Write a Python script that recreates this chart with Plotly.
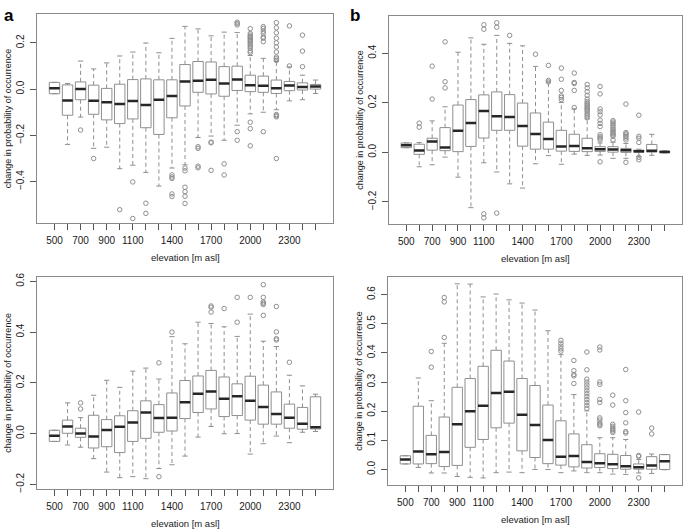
import plotly.graph_objects as go

W, H = 685, 530

elevation = [500, 600, 700, 800, 900, 1000, 1100, 1200, 1300, 1400, 1500,
             1600, 1700, 1800, 1900, 2000, 2100, 2200, 2300, 2400, 2500]
tick_text = ["500", "", "700", "", "900", "", "1100", "", "", "1400", "",
             "", "1700", "", "", "2000", "", "", "2300", "", ""]

# ---- panel a (top left) ----
a_q1 = [-0.020, -0.113, -0.046, -0.109, -0.133, -0.149, -0.129, -0.167, -0.196, -0.124, -0.073,
        -0.014, -0.021, -0.031, -0.006, -0.011, -0.014, -0.019, -0.007, -0.004, 0.000]
a_med = [0.004, -0.049, 0.000, -0.050, -0.057, -0.064, -0.051, -0.069, -0.046, -0.030, 0.033,
         0.036, 0.040, 0.024, 0.041, 0.017, 0.014, 0.004, 0.016, 0.009, 0.011]
a_q3 = [0.029, 0.018, 0.031, 0.017, 0.003, 0.021, 0.041, 0.044, 0.040, 0.040, 0.106,
        0.119, 0.117, 0.097, 0.099, 0.060, 0.056, 0.039, 0.033, 0.027, 0.020]
a_lo = [-0.020, -0.239, -0.121, -0.256, -0.251, -0.344, -0.329, -0.360, -0.419, -0.341, -0.327,
        -0.209, -0.203, -0.221, -0.156, -0.107, -0.100, -0.089, -0.051, -0.046, -0.019]
a_hi = [0.029, 0.024, 0.121, 0.087, 0.113, 0.143, 0.160, 0.199, 0.157, 0.219, 0.271,
        0.260, 0.230, 0.246, 0.244, 0.145, 0.133, 0.119, 0.096, 0.060, 0.039]
a_out = [[], [], [-0.177], [-0.300], [], [-0.521], [-0.401, -0.559], [-0.493, -0.537], [],
         [-0.371, -0.380, -0.386, -0.453, -0.464],
         [-0.341, -0.353, -0.424, -0.443, -0.463, -0.494],
         [-0.249, -0.256, -0.333, -0.340],
         [-0.229, -0.232, -0.351],
         [-0.323, -0.371],
         [0.289, 0.283, 0.277, -0.184, -0.221],
         [0.261, 0.240, 0.233, 0.227, 0.222, 0.216, 0.210, 0.204, 0.198, 0.190, 0.183, 0.176,
          0.165, 0.158, -0.143, -0.171, -0.245],
         [0.270, 0.262, 0.250, 0.240, 0.225, 0.220, 0.205, -0.184],
         [0.287, 0.265, 0.243, 0.220, 0.200, 0.182, 0.160, 0.138, 0.131, 0.124,
          -0.110, -0.115, -0.120, -0.300],
         [0.273, 0.100],
         [0.233, 0.164, 0.097],
         []]

# ---- panel b (top right) ----
b_q1 = [0.019, -0.008, 0.009, 0.007, 0.003, 0.024, 0.058, 0.089, 0.089, 0.025, 0.013,
        0.013, 0.005, 0.004, 0.003, 0.004, 0.001, 0.000, 0.000, 0.001, 0.000]
b_med = [0.029, 0.008, 0.044, 0.020, 0.087, 0.119, 0.167, 0.146, 0.143, 0.106, 0.074,
         0.054, 0.024, 0.026, 0.017, 0.013, 0.012, 0.009, 0.005, 0.007, 0.002]
b_q3 = [0.038, 0.033, 0.057, 0.100, 0.191, 0.213, 0.232, 0.244, 0.233, 0.199, 0.159,
        0.122, 0.089, 0.073, 0.057, 0.023, 0.023, 0.016, 0.009, 0.032, 0.005]
b_lo = [0.019, -0.058, -0.050, -0.019, -0.100, -0.223, -0.042, -0.079, -0.127, -0.144, -0.046,
        -0.013, -0.048, -0.007, -0.012, -0.011, -0.024, -0.024, -0.017, -0.012, -0.002]
b_hi = [0.038, 0.040, 0.127, 0.184, 0.404, 0.462, 0.436, 0.472, 0.440, 0.430, 0.347,
        0.287, 0.201, 0.176, 0.135, 0.038, 0.041, 0.036, 0.013, 0.073, 0.007]
b_out = [[], [0.118, 0.102], [0.348, 0.215], [0.446, 0.285, 0.260], [], [],
         [0.515, 0.497, -0.248, -0.264],
         [0.523, 0.505, -0.245],
         [0.472], [], [0.396],
         [0.351, 0.290, 0.284],
         [0.340, 0.295, 0.250, 0.228, 0.222, 0.213],
         [0.320, 0.282, 0.278, 0.250, 0.181],
         [0.274, 0.260, 0.245, 0.230, 0.215, 0.205, 0.198, 0.192, 0.186, 0.180, 0.175,
          0.170, 0.163, 0.155, 0.148, 0.140],
         [0.266, 0.236, 0.175, 0.164, 0.151, 0.130, 0.117, 0.104, 0.071, 0.063, 0.058,
          0.051, -0.038],
         [0.128, 0.122, 0.115, 0.108, 0.100, 0.093, 0.087, 0.080, 0.075, 0.070, 0.065, 0.050],
         [0.195, 0.080, 0.075, 0.070, 0.064, 0.058, 0.050, -0.040],
         [0.150, 0.065, 0.057, 0.040, -0.020, -0.030],
         [], []]

# ---- panel c (bottom left) ----
c_q1 = [-0.031, 0.001, -0.015, -0.057, -0.052, -0.075, -0.031, -0.019, 0.005, 0.010, 0.059,
        0.083, 0.097, 0.067, 0.071, 0.053, 0.037, 0.037, 0.021, 0.017, 0.018]
c_med = [-0.009, 0.028, 0.000, -0.012, 0.014, 0.027, 0.044, 0.083, 0.061, 0.062, 0.123,
         0.157, 0.166, 0.137, 0.147, 0.129, 0.105, 0.077, 0.062, 0.039, 0.025]
c_q3 = [0.013, 0.053, 0.021, 0.072, 0.055, 0.070, 0.090, 0.129, 0.114, 0.160, 0.209,
        0.227, 0.249, 0.223, 0.196, 0.226, 0.191, 0.164, 0.116, 0.103, 0.145]
c_lo = [-0.031, -0.045, -0.054, -0.099, -0.152, -0.174, -0.170, -0.178, -0.138, -0.123, -0.089,
        -0.014, 0.028, -0.001, 0.000, -0.081, -0.040, -0.010, -0.036, 0.005, 0.008]
c_hi = [0.013, 0.121, 0.063, 0.151, 0.210, 0.182, 0.246, 0.258, 0.215, 0.382, 0.354,
        0.439, 0.434, 0.421, 0.383, 0.471, 0.364, 0.343, 0.230, 0.188, 0.155]
c_out = [[], [], [0.121, 0.097], [], [], [], [], [], [0.279, -0.170], [0.400], [],
         [], [0.503, 0.498, 0.479], [0.493], [0.537, 0.439], [0.537],
         [0.587, 0.537, 0.519, 0.514, 0.509, 0.466],
         [0.501, 0.401, 0.374, 0.369],
         [0.281], [], []]

# ---- panel d (bottom right) ----
d_q1 = [0.019, 0.019, 0.020, 0.010, 0.014, 0.076, 0.103, 0.143, 0.159, 0.064, 0.041,
        0.020, 0.015, 0.009, 0.005, 0.007, 0.003, 0.001, 0.001, 0.001, 0.000]
d_med = [0.034, 0.062, 0.052, 0.060, 0.155, 0.200, 0.219, 0.262, 0.267, 0.188, 0.153,
         0.101, 0.044, 0.046, 0.026, 0.021, 0.018, 0.011, 0.008, 0.014, 0.028]
d_q3 = [0.047, 0.217, 0.117, 0.180, 0.282, 0.312, 0.354, 0.409, 0.372, 0.312, 0.288,
        0.221, 0.167, 0.122, 0.085, 0.054, 0.052, 0.048, 0.019, 0.044, 0.051]
d_lo = [0.019, 0.007, -0.012, -0.012, -0.024, -0.027, -0.029, -0.011, -0.009, -0.011, 0.000,
        0.000, -0.011, -0.005, -0.011, -0.011, -0.016, -0.017, -0.012, -0.014, -0.001]
d_hi = [0.047, 0.314, 0.236, 0.433, 0.637, 0.636, 0.592, 0.602, 0.582, 0.571, 0.547,
        0.476, 0.394, 0.257, 0.201, 0.109, 0.109, 0.103, 0.034, 0.053, 0.051]
d_out = [[], [], [0.405, 0.351], [0.590, 0.575, 0.453], [], [], [], [], [], [], [],
         [], [0.443, 0.433, 0.423, 0.414, 0.406],
         [0.374, 0.339, 0.326, 0.321, 0.295],
         [0.403, 0.342, 0.310, 0.300, 0.290, 0.280, 0.270, 0.260, 0.250, 0.240, 0.230,
          0.220, 0.210],
         [0.420, 0.410, 0.300, 0.292, 0.240, 0.230, 0.177, 0.170, 0.160, 0.155, 0.150],
         [0.255, 0.221, 0.155, 0.148, 0.142, 0.137, 0.132, 0.127],
         [0.343, 0.236, 0.195, 0.160, 0.130, 0.125],
         [0.197, 0.048, 0.045, -0.029],
         [0.142, 0.122], []]

BOX_GRAY = "#8f8f8f"
FRAME = "#8a8a8a"
MED = "#262626"
TXT = "#1a1a1a"
FONT = "Liberation Sans, Arial, Helvetica, sans-serif"
HALF_BOX = 40     # R boxwex 0.8 on 100 m spacing
HALF_CAP = 20     # staplewex 0.5


def segs(xa, xb, ya, yb):
    xs, ys = [], []
    for x0, x1, y0, y1 in zip(xa, xb, ya, yb):
        xs += [x0, x1, None]
        ys += [y0, y1, None]
    return xs, ys


def add_panel(fig, n, q1, med, q3, lo, hi, out):
    ax = dict(xaxis="x" if n == 1 else f"x{n}", yaxis="y" if n == 1 else f"y{n}")
    # dashed whiskers
    xs, ys = segs(elevation + elevation, elevation + elevation, q3 + q1, hi + lo)
    fig.add_trace(go.Scatter(x=xs, y=ys, mode="lines", hoverinfo="skip", showlegend=False,
                             line=dict(color=BOX_GRAY, width=1, dash="4px,3px"), **ax))
    # staples
    left = [e - HALF_CAP for e in elevation]
    right = [e + HALF_CAP for e in elevation]
    xs, ys = segs(left + left, right + right, hi + lo, hi + lo)
    fig.add_trace(go.Scatter(x=xs, y=ys, mode="lines", hoverinfo="skip", showlegend=False,
                             line=dict(color=BOX_GRAY, width=1), **ax))
    # boxes
    fig.add_trace(go.Box(x=elevation, q1=q1, median=med, q3=q3, lowerfence=q1, upperfence=q3,
                         width=2 * HALF_BOX, whiskerwidth=0, boxpoints=False,
                         fillcolor="white", line=dict(color=BOX_GRAY, width=1),
                         hoverinfo="skip", showlegend=False, **ax))
    # medians
    xs, ys = segs([e - HALF_BOX for e in elevation], [e + HALF_BOX for e in elevation], med, med)
    fig.add_trace(go.Scatter(x=xs, y=ys, mode="lines", hoverinfo="skip", showlegend=False,
                             line=dict(color=MED, width=2.5), **ax))
    # outliers
    ox, oy = [], []
    for e, vals in zip(elevation, out):
        ox += [e] * len(vals)
        oy += vals
    fig.add_trace(go.Scatter(x=ox, y=oy, mode="markers", hoverinfo="skip", showlegend=False,
                             marker=dict(symbol="circle-open", size=4.5, color=BOX_GRAY,
                                         line=dict(width=1, color=BOX_GRAY)), **ax))


fig = go.Figure()
add_panel(fig, 1, a_q1, a_med, a_q3, a_lo, a_hi, a_out)
add_panel(fig, 2, b_q1, b_med, b_q3, b_lo, b_hi, b_out)
add_panel(fig, 3, c_q1, c_med, c_q3, c_lo, c_hi, c_out)
add_panel(fig, 4, d_q1, d_med, d_q3, d_lo, d_hi, d_out)

# panel frames in pixels: (left, right, top, bottom), y range, y tick step
panels = {
    1: ((37, 333, 10, 222), [-0.577, 0.325], 0.2),
    2: ((389, 682, 12, 223), [-0.2875, 0.551], 0.2),
    3: ((37, 333, 277, 492), [-0.217, 0.618], 0.2),
    4: ((388, 682, 277, 488), [-0.052, 0.661], 0.1),
}

layout = dict(
    width=W, height=H, margin=dict(l=0, r=0, t=0, b=0),
    paper_bgcolor="white", plot_bgcolor="white",
    font=dict(family=FONT, color=TXT, size=10),
    showlegend=False, annotations=[],
)

for n, ((l, r, t, b), yr, step) in panels.items():
    sx = "" if n == 1 else str(n)
    layout["xaxis" + sx] = dict(
        domain=[l / W, r / W], anchor="y" + sx, range=[366, 2634],
        tickmode="array", tickvals=elevation, ticktext=tick_text,
        ticks="outside", ticklen=6, tickcolor="#555", tickwidth=1,
        showline=True, linecolor=FRAME, linewidth=1, mirror=True,
        showgrid=False, zeroline=False, tickfont=dict(size=10, color=TXT),
        ticklabelstandoff=2,
    )
    layout["yaxis" + sx] = dict(
        domain=[1 - b / H, 1 - t / H], anchor="x" + sx, range=yr,
        dtick=step, tick0=0, tickformat=".1f", tickangle=-90,
        ticks="outside", ticklen=6, tickcolor="#555", tickwidth=1,
        showline=True, linecolor=FRAME, linewidth=1, mirror=True,
        showgrid=False, zeroline=False, tickfont=dict(size=10, color=TXT),
        ticklabelstandoff=2,
    )
    cx = (l + r) / 2
    cy = (t + b) / 2
    layout["annotations"].append(dict(
        text="elevation [m asl]", xref="paper", yref="paper",
        x=cx / W, y=1 - (b + 35) / H, xanchor="center", yanchor="middle",
        showarrow=False, font=dict(size=9.5, color=TXT)))
    layout["annotations"].append(dict(
        text="change in probability of occurrence", xref="paper", yref="paper",
        x=(l - 29) / W, y=1 - cy / H, xanchor="center", yanchor="middle",
        textangle=-90, showarrow=False, font=dict(size=9, color=TXT)))

for label, px in (("a", 2), ("b", 348)):
    layout["annotations"].append(dict(
        text=f"<b>{label}</b>", xref="paper", yref="paper", x=px / W, y=1.0,
        xanchor="left", yanchor="top", showarrow=False, font=dict(size=17, color="#000")))

fig.update_layout(**layout)
# drop the browser's default 8px body margin so pixel positions match the page
fig.write_html("out.html", config={"displayModeBar": False},
               post_script="document.body.style.margin = '0';")
